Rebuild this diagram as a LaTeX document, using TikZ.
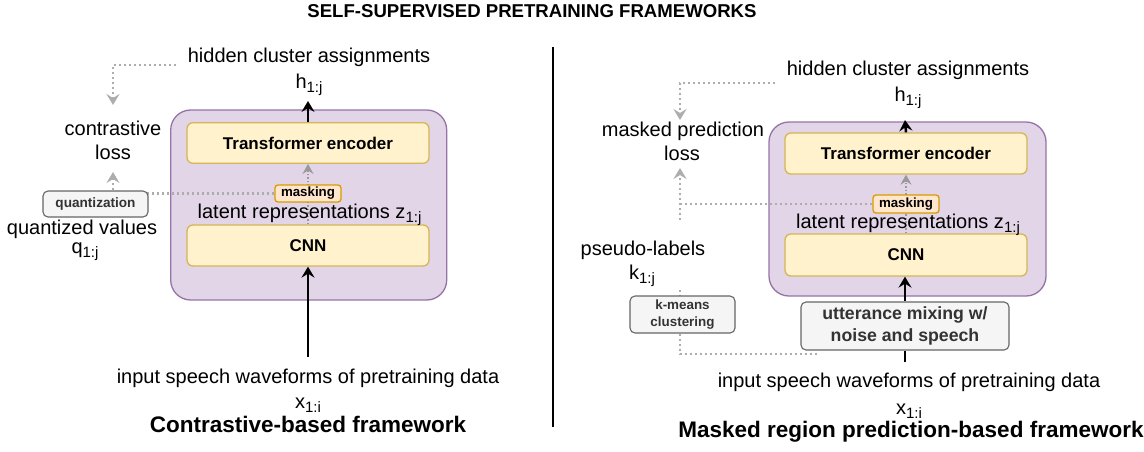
\documentclass[tikz,border=0pt]{standalone}
\usepackage{fontspec}
\setmainfont{Liberation Sans}
\usetikzlibrary{arrows.meta}

\definecolor{purpFill}{HTML}{E1D5E7}
\definecolor{purpLine}{HTML}{9673A6}
\definecolor{yelFill}{HTML}{FFF2CC}
\definecolor{yelLine}{HTML}{D6B656}
\definecolor{orgFill}{HTML}{FFE6CC}
\definecolor{orgLine}{HTML}{D79B00}
\definecolor{gryFill}{HTML}{F5F5F5}
\definecolor{gryLine}{HTML}{666666}
\definecolor{gryText}{HTML}{333333}
\definecolor{dotGrey}{HTML}{ADADAD}
\definecolor{dotDark}{HTML}{999999}

% lowered index such as 1:j
\newcommand{\lowidx}[1]{{\fontsize{15}{15}\selectfont\raisebox{-4pt}{#1}}}

\pgfdeclarelayer{frames}
\pgfdeclarelayer{links}
\pgfsetlayers{frames,links,main}

\tikzset{
  frame/.style={draw=purpLine, fill=purpFill, line width=1.3pt, rounded corners=20pt, inner sep=0pt},
  block/.style={draw=yelLine, fill=yelFill, line width=1.3pt, rounded corners=6pt, inner sep=0pt,
                font=\fontsize{17}{20}\selectfont\bfseries},
  maskbox/.style={draw=orgLine, fill=orgFill, line width=1.3pt, rounded corners=3pt, inner sep=0pt,
                  minimum width=66pt, font=\fontsize{13.3}{15}\selectfont\bfseries},
  greybox/.style={draw=gryLine, fill=gryFill, line width=1.1pt, rounded corners=5pt, inner sep=0pt,
                  text=gryText, align=center},
  lbl/.style={anchor=base, inner sep=0pt, font=\fontsize{20}{24}\selectfont},
  capt/.style={anchor=base, inner sep=0pt, font=\fontsize{22.5}{26}\selectfont\bfseries},
  gdot/.style={draw=dotGrey, line width=2.2pt, dash pattern=on 2.2pt off 2.8pt},
  ddot/.style={draw=dotDark, line width=1.5pt, dash pattern=on 1.5pt off 2pt},
  gtip/.style={-{Stealth[length=11pt,width=13pt,inset=4pt,fill=dotGrey]}},
  dtip/.style={-{Stealth[length=10pt,width=11pt,inset=3.5pt,fill=dotDark]}},
  flow/.style={draw=black, line width=2.5pt, -{Stealth[length=11pt,width=13pt,inset=4pt]}},
  plain/.style={draw=black, line width=2.5pt},
}

\begin{document}
\begin{tikzpicture}[x=1pt, y=-1pt]
\useasboundingbox (0,0) rectangle (1144,451);

% ---------- heading and divider ----------
\node[anchor=base, inner sep=0pt, font=\fontsize{18.6}{22}\selectfont\bfseries] (heading) at (532,17)
  {SELF-SUPERVISED PRETRAINING FRAMEWORKS};
\coordinate (divTop) at (553,47);
\coordinate (divBot) at (553,427);
\draw[line width=2.5pt] (divTop) -- (divBot);

% ================= contrastive framework =================
\begin{pgfonlayer}{frames}
  \node[frame, minimum width=276pt, minimum height=190pt] (frameL) at (308.7,205) {};
\end{pgfonlayer}
\node[block, minimum width=242pt, minimum height=40.6pt] (tfL) at (308,143) {Transformer encoder};
\node[block, minimum width=242pt, minimum height=41pt] (cnnL) at (308,245.5) {CNN};
\node[maskbox, minimum height=17pt] (maskL) at (308,193.5) {masking};
\node[greybox, minimum width=105pt, minimum height=26pt, font=\fontsize{13.6}{16}\selectfont\bfseries]
  (quantL) at (95.5,204) {quantization};

\node[lbl] (hidL) at (309,62) {hidden cluster assignments};
\node[lbl] (hL) at (309,88) {h\lowidx{1:j}};
\node[lbl] (contrL) at (113,135) {contrastive};
\node[lbl] (lossL) at (113,159) {loss};
\node[lbl] (latL) at (309.5,218) {latent representations z\lowidx{1:j}};
\node[lbl] (qvL) at (82,234) {quantized values};
\node[lbl] (qL) at (85,253) {q\lowidx{1:j}};
\node[lbl] (inL) at (308,383) {input speech waveforms of pretraining data};
\node[lbl] (xL) at (308,408) {x\lowidx{1:i}};
\node[capt] (capL) at (308,432) {Contrastive-based framework};

\coordinate (hidLw) at (176,65);
\coordinate (contrLtop) at (113,105);
\coordinate (lossLbot) at (113,172);
\coordinate (hLbot) at (308,101);
\coordinate (inLtop) at (308,357);

\begin{pgfonlayer}{links}
  \draw[gdot, gtip] (hidLw) -| (contrLtop);
  \draw[gdot, gtip] (maskL.west) -| (lossLbot);
  \draw[ddot, dtip] (cnnL.north) -- (tfL.south);
\end{pgfonlayer}
\draw[flow] (tfL.north) -- (hLbot);
\draw[flow] (inLtop) -- (cnnL.south);

% ================= masked prediction framework =================
\begin{pgfonlayer}{frames}
  \node[frame, minimum width=277pt, minimum height=174pt] (frameR) at (907.5,209) {};
\end{pgfonlayer}
\node[block, minimum width=242pt, minimum height=41pt] (tfR) at (906,153.5) {Transformer encoder};
\node[block, minimum width=242pt, minimum height=42pt] (cnnR) at (906,255) {CNN};
\node[maskbox, minimum height=18pt] (maskR) at (906,204) {masking};
\node[greybox, minimum width=208pt, minimum height=48pt, font=\fontsize{17.7}{22}\selectfont\bfseries]
  (mixR) at (905,326) {utterance mixing w/\\noise and speech};
\node[greybox, minimum width=105pt, minimum height=37pt, font=\fontsize{13.4}{17}\selectfont\bfseries]
  (kmR) at (682.5,314.5) {k-means\\clustering};

\node[lbl] (hidR) at (908,75) {hidden cluster assignments};
\node[lbl] (hR) at (908,101) {h\lowidx{1:j}};
\node[lbl] (mpR) at (683,136) {masked prediction};
\node[lbl] (lossR) at (682,160) {loss};
\node[lbl] (latR) at (908,228) {latent representations z\lowidx{1:j}};
\node[lbl] (pseudoR) at (643,255) {pseudo-labels};
\node[lbl] (kR) at (642,279) {k\lowidx{1:j}};
\node[lbl] (inR) at (909,387) {input speech waveforms of pretraining data};
\node[lbl] (xR) at (909,414) {x\lowidx{1:i}};
\node[capt] (capR) at (911,437) {Masked region prediction-based framework};

\coordinate (hidRw) at (775,83);
\coordinate (mpRtop) at (680,120);
\coordinate (lossRbot) at (680,168);
\coordinate (pseudoRtop) at (680,220);
\coordinate (kRbot) at (680,290);
\coordinate (kmBend) at (680,354);
\coordinate (kmEnd) at (819,354);
\coordinate (hRbot) at (905,120);
\coordinate (inRtop) at (905,362);

\begin{pgfonlayer}{links}
  \draw[gdot, gtip] (hidRw) -| (mpRtop);
  \draw[gdot, gtip] (pseudoRtop) -- (lossRbot);
  \draw[gdot] (maskR.west) -- (pseudoRtop |- maskR.west);
  \draw[gdot] (kRbot) -- (kRbot |- kmR.north);
  \draw[gdot] (kRbot |- kmR.south) -- (kmBend) -- (kmEnd);
  \draw[ddot, dtip] (cnnR.north) -- (tfR.south);
\end{pgfonlayer}
\draw[flow] (tfR.north) -- (hRbot);
\draw[flow] (mixR.north) -- (mixR.north |- cnnR.south);
\draw[plain] (inRtop) -- (mixR.south);

\end{tikzpicture}
\end{document}
